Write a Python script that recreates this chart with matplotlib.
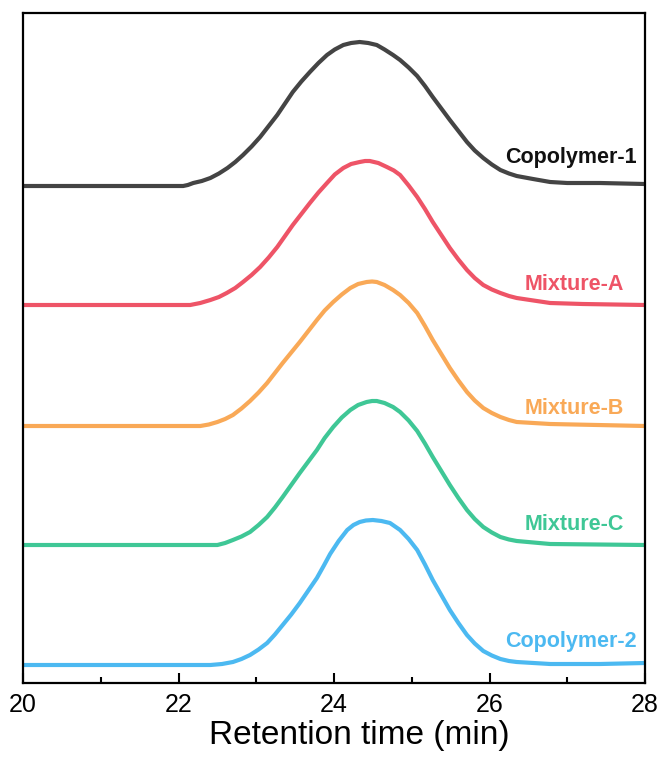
import numpy as np
import matplotlib.pyplot as plt

plt.rcParams['font.family'] = ['Liberation Sans', 'DejaVu Sans']

# --- data (signal above each baseline) ---
names = ['Copolymer-1', 'Mixture-A', 'Mixture-B', 'Mixture-C', 'Copolymer-2']

t_cop1 = [20.0, 22.06, 22.12, 22.19, 22.30, 22.41, 22.52, 22.63, 22.73, 22.83, 22.94, 23.05, 23.16,
          23.27, 23.37, 23.47, 23.58, 23.69, 23.80, 23.91, 24.01, 24.12, 24.22, 24.33, 24.44, 24.55,
          24.65, 24.76, 24.85, 24.96, 25.07, 25.17, 25.27, 25.38, 25.49, 25.60, 25.71, 25.81, 25.92,
          26.03, 26.14, 26.25, 26.35, 26.56, 26.78, 27.00, 27.42, 28.0]
s_cop1 = [0, 0, 1, 3, 5, 8, 12.5, 18, 24, 31, 39.5, 49, 60,
          71, 82.5, 94, 104.5, 114, 123, 131, 136.5, 141, 143, 144, 143, 141,
          136.5, 131, 126, 118.5, 110, 100, 89, 77.5, 66, 55, 44, 35.5, 28,
          21.5, 16, 12.5, 10, 7, 4, 3, 3, 2]

t_mixa = [20.0, 22.15, 22.28, 22.41, 22.52, 22.62, 22.73, 22.83, 22.94, 23.05, 23.16, 23.27, 23.37,
          23.47, 23.58, 23.69, 23.80, 23.91, 24.01, 24.12, 24.22, 24.33, 24.40, 24.46, 24.57, 24.68,
          24.77, 24.85, 24.96, 25.07, 25.17, 25.27, 25.38, 25.49, 25.60, 25.71, 25.81, 25.92, 26.03,
          26.14, 26.25, 26.35, 26.78, 27.20, 28.0]
s_mixa = [0, 0, 2, 5, 8, 12, 17, 23, 30, 38, 47.5, 58, 69,
          80, 91, 102, 112.5, 122, 130.5, 137, 141, 143, 144, 144, 142, 138,
          134.5, 130, 119.5, 108, 96, 83, 70, 57, 45.5, 35, 27, 20, 15.5,
          12, 9, 7, 2, 1, 0]

t_mixb = [20.0, 22.28, 22.39, 22.50, 22.60, 22.70, 22.81, 22.92, 23.03, 23.14, 23.24, 23.34, 23.45,
          23.56, 23.67, 23.78, 23.88, 23.99, 24.10, 24.21, 24.31, 24.42, 24.49, 24.55, 24.65, 24.76,
          24.85, 24.96, 25.07, 25.17, 25.27, 25.38, 25.49, 25.60, 25.71, 25.81, 25.92, 26.03, 26.14,
          26.25, 26.35, 26.78, 28.0]
s_mixb = [0, 0, 1.5, 4, 7, 11, 17.5, 25, 33.5, 43, 53, 63, 73.5,
          84, 95, 106, 115.5, 124, 131.5, 138, 142, 144, 144.5, 144, 141, 136,
          131, 123, 113, 100, 86, 72, 58, 45.5, 34, 25.5, 18, 13, 9,
          6, 4, 2, 0]

t_mixc = [20.0, 22.50, 22.60, 22.70, 22.81, 22.92, 23.03, 23.14, 23.24, 23.34, 23.45, 23.56, 23.67,
          23.78, 23.88, 23.99, 24.10, 24.21, 24.31, 24.42, 24.49, 24.55, 24.65, 24.76, 24.85, 24.96,
          25.07, 25.17, 25.27, 25.38, 25.49, 25.60, 25.71, 25.81, 25.92, 26.03, 26.14, 26.25, 26.35,
          26.78, 28.0]
s_mixc = [0, 0, 2, 5, 8.5, 13, 20, 28, 37.5, 48, 60, 72, 83.5,
          95, 107, 118, 127.5, 135, 140, 143, 144, 144, 142, 138, 133, 124.5,
          114, 101.5, 88, 74, 60, 47, 35, 26, 18, 12.5, 8, 5.5, 4,
          1, 0]

t_cop2 = [20.0, 22.41, 22.56, 22.70, 22.81, 22.92, 23.03, 23.14, 23.24, 23.34, 23.45, 23.56, 23.67,
          23.78, 23.87, 23.95, 24.06, 24.17, 24.25, 24.33, 24.41, 24.50, 24.61, 24.72, 24.85, 24.96,
          25.07, 25.17, 25.27, 25.38, 25.49, 25.60, 25.71, 25.81, 25.92, 26.03, 26.14, 26.25, 26.35,
          26.78, 27.42, 28.0]
s_cop2 = [0, 0, 1, 3, 6, 10, 15.5, 22, 30.5, 40, 50.5, 62, 74.5,
          87, 99.5, 111, 124, 135, 140, 143, 144.5, 145, 144, 142, 135, 126,
          115, 100.5, 85, 70, 55, 42, 30, 21.5, 14, 9.5, 6, 4, 3,
          1, 1, 2]

offsets = [479, 360, 239, 120, 0]

# --- style ---
colors = ['#444444', '#EE5467', '#F9A957', '#3FC796', '#4CB9F1']
text_colors = ['#111111', '#EE5467', '#F9A957', '#3FC796', '#4CB9F1']
label_x = [27.9, 27.73, 27.73, 27.73, 27.9]
label_dy = [28, 20, 18, 20, 23]

times = [t_cop1, t_mixa, t_mixb, t_mixc, t_cop2]
signals = [s_cop1, s_mixa, s_mixb, s_mixc, s_cop2]

fig = plt.figure(figsize=(6.68, 7.63), dpi=100)
ax = fig.add_axes([23 / 668, 1 - 683 / 763, 622 / 668, 670 / 763])

for t, s, off, c, tc, name, lx, dy in zip(times, signals, offsets, colors, text_colors,
                                          names, label_x, label_dy):
    ax.plot(t, np.array(s) + off, color=c, lw=3, solid_capstyle='round', solid_joinstyle='round')
    ax.text(lx, off + dy, name, color=tc, fontsize=15.5, fontweight='bold',
            ha='right', va='center')

ax.set_xlim(20, 28)
ax.set_ylim(-18, 652)
ax.set_xticks([20, 22, 24, 26, 28])
ax.set_xticks([21, 23, 25, 27], minor=True)
ax.set_yticks([])
ax.tick_params(axis='x', which='major', direction='in', length=7, width=1.5, labelsize=18, pad=7)
ax.tick_params(axis='x', which='minor', direction='in', length=4, width=1.5)
for sp in ax.spines.values():
    sp.set_linewidth(1.6)
ax.set_xlabel('Retention time (min)', fontsize=24, labelpad=4)
ax.xaxis.set_label_coords(0.54, -0.055)

fig.savefig('out.png', dpi=100)
